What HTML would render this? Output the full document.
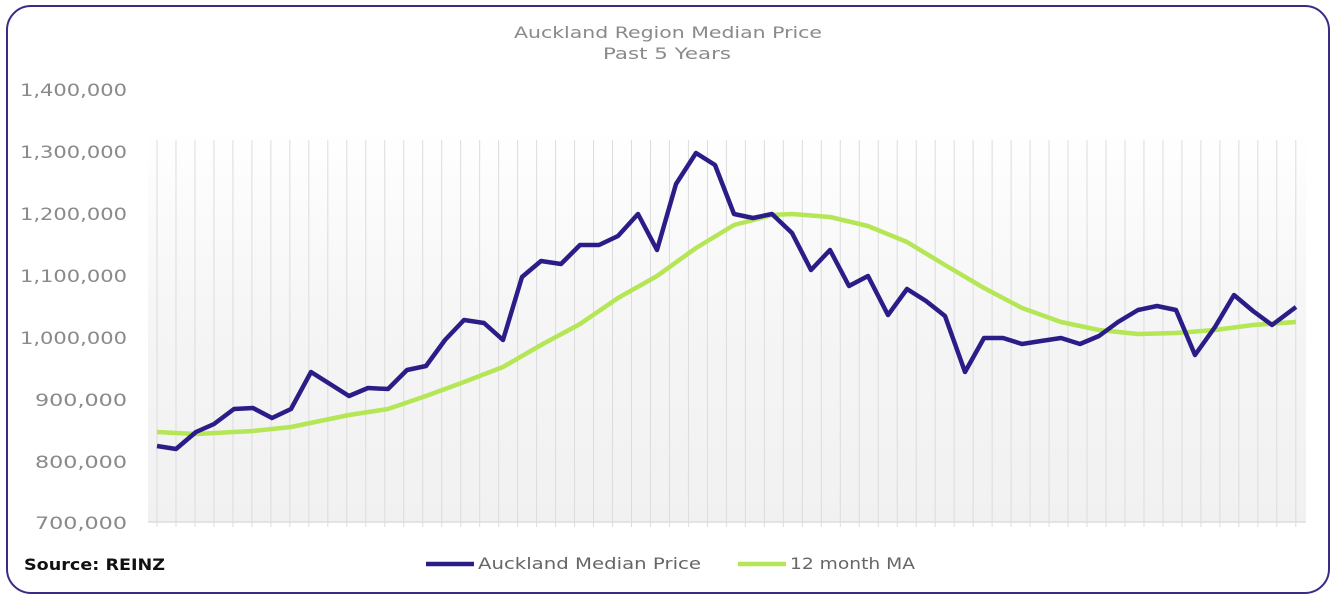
<!DOCTYPE html>
<html><head><meta charset="utf-8"><style>
html,body{margin:0;padding:0;background:#fff;}
svg{display:block;font-family:"DejaVu Sans","Liberation Sans",sans-serif;}
</style></head><body>
<svg width="1336" height="600" viewBox="0 0 1336 600" xmlns="http://www.w3.org/2000/svg">
<defs>
<linearGradient id="bg" x1="0" y1="0" x2="0" y2="1">
<stop offset="0" stop-color="#ffffff"/>
<stop offset="0.5" stop-color="#f5f5f5"/>
<stop offset="1" stop-color="#f1f1f1"/>
</linearGradient>
</defs>
<rect x="7" y="6" width="1322" height="587" rx="24" fill="#fff" stroke="#3b2a86" stroke-width="2"/>
<rect x="148" y="130" width="1158" height="392" fill="url(#bg)"/>
<g stroke="#dcdcdc" stroke-width="1" id="grid"></g>
<line x1="148" y1="522" x2="1306" y2="522" stroke="#dedede" stroke-width="1.5"/>
<text x="514" y="38" font-size="16" fill="#8a8a8a" textLength="308" lengthAdjust="spacingAndGlyphs">Auckland Region Median Price</text>
<text x="603" y="59" font-size="16" fill="#8a8a8a" textLength="128" lengthAdjust="spacingAndGlyphs">Past 5 Years</text>
<g font-size="17" fill="#8a8a8a" text-anchor="end">
<text x="127" y="96" textLength="107" lengthAdjust="spacingAndGlyphs">1,400,000</text>
<text x="127" y="158" textLength="107" lengthAdjust="spacingAndGlyphs">1,300,000</text>
<text x="127" y="220" textLength="107" lengthAdjust="spacingAndGlyphs">1,200,000</text>
<text x="127" y="282" textLength="107" lengthAdjust="spacingAndGlyphs">1,100,000</text>
<text x="127" y="344" textLength="107" lengthAdjust="spacingAndGlyphs">1,000,000</text>
<text x="127" y="406" textLength="92" lengthAdjust="spacingAndGlyphs">900,000</text>
<text x="127" y="468" textLength="92" lengthAdjust="spacingAndGlyphs">800,000</text>
<text x="127" y="529" textLength="92" lengthAdjust="spacingAndGlyphs">700,000</text>
</g>
<polyline fill="none" stroke="#b5e655" stroke-width="4.5" stroke-linejoin="round" points="157,432 196,434 253,431 291,427 349,415 388,409 426,396 464,382 503,367 541,345 580,324 618,298 657,276 696,248 734,225 772,215 792,214 830,217 868,226 907,242 945,265 984,288 1022,308 1061,322 1099,330 1138,334 1176,333 1215,330 1253,325 1296,322"/>
<polyline fill="none" stroke="#2b1d87" stroke-width="4.5" stroke-linejoin="round" points="157,446 176,449 196,432 214,424 234,409 253,408 272,418 291,409 311,372 330,384 349,396 368,388 388,389 407,370 426,366 445,340 464,320 484,323 503,340 522,277 541,261 561,264 580,245 599,245 618,236 638,214 657,250 676,184 696,153 715,165 734,214 753,218 772,214 792,233 811,270 830,250 849,286 868,276 888,315 907,289 926,301 945,316 965,372 984,338 1003,338 1022,344 1041,341 1061,338 1080,344 1099,336 1118,322 1138,310 1157,306 1176,310 1195,355 1215,327 1234,295 1253,311 1272,325 1296,307"/>
<text x="24" y="570" font-size="16" font-weight="bold" fill="#111" textLength="141" lengthAdjust="spacingAndGlyphs">Source: REINZ</text>
<line x1="426" y1="564" x2="474" y2="564" stroke="#2b1d87" stroke-width="4.5"/>
<text x="478" y="569" font-size="16" fill="#666" textLength="223" lengthAdjust="spacingAndGlyphs">Auckland Median Price</text>
<line x1="738" y1="564" x2="786" y2="564" stroke="#b5e655" stroke-width="4.5"/>
<text x="790" y="569" font-size="16" fill="#666" textLength="125" lengthAdjust="spacingAndGlyphs">12 month MA</text>
<script>
var g=document.getElementById('grid');
for(var i=0;i<61;i++){var x=157+i*18.98;
var l=document.createElementNS('http://www.w3.org/2000/svg','line');
l.setAttribute('x1',x);l.setAttribute('x2',x);l.setAttribute('y1',140);l.setAttribute('y2',527);g.appendChild(l);}
</script>
</svg>
</body></html>
